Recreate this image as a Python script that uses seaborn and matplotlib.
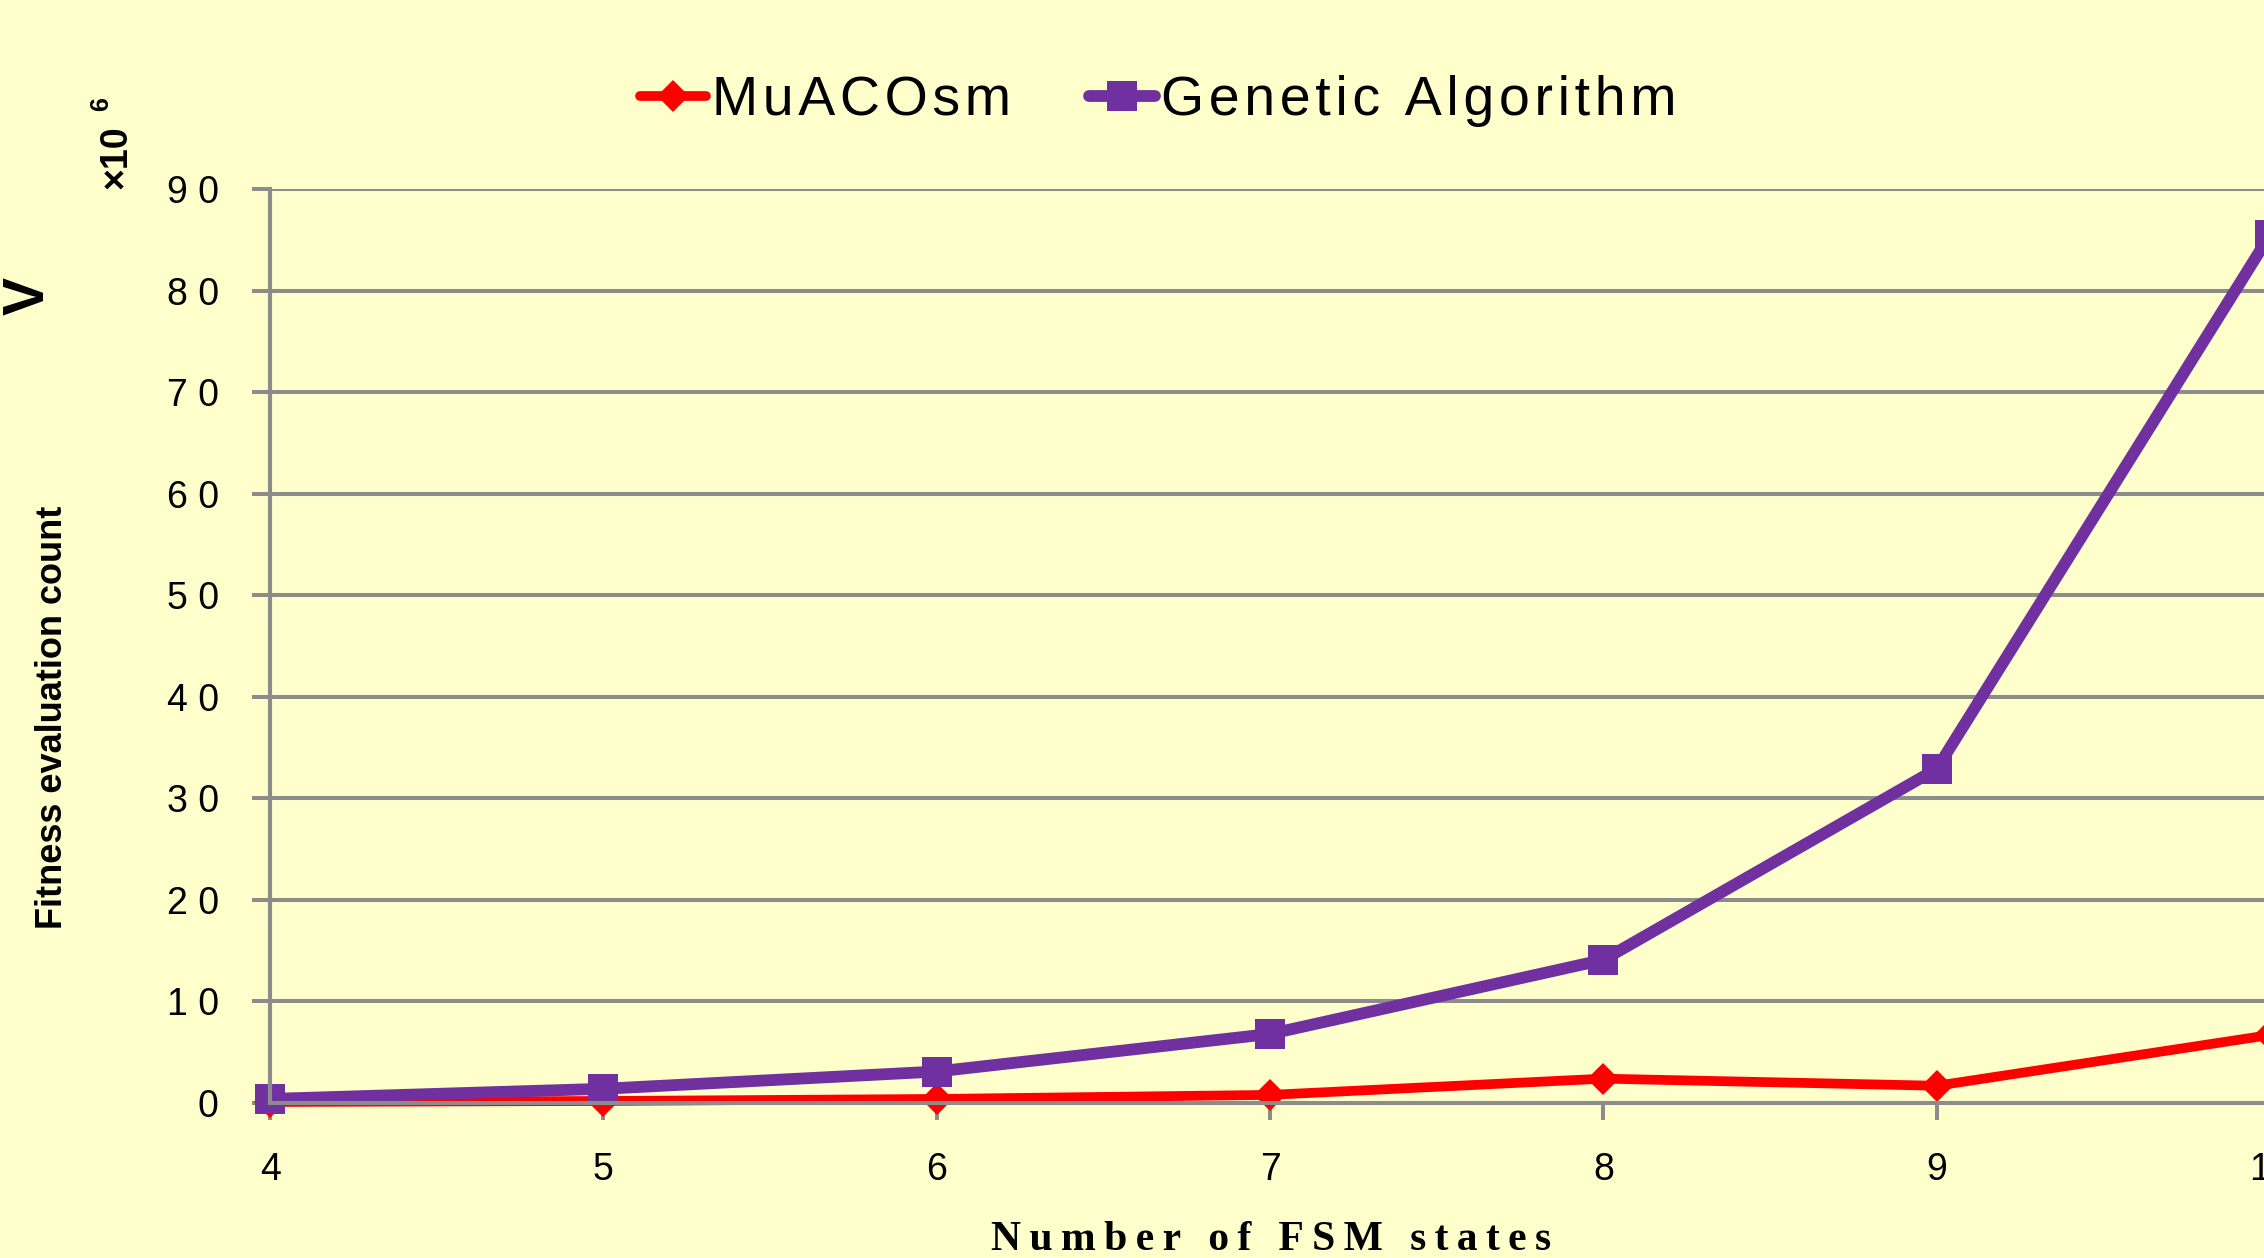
import matplotlib
matplotlib.use("Agg")
import matplotlib.pyplot as plt
import seaborn as sns
import pandas as pd

# data (values in millions)
states = [4, 5, 6, 7, 8, 9, 10]
muacosm = [0.1, 0.2, 0.4, 0.8, 2.4, 1.7, 6.7]
genetic = [0.4, 1.4, 3.1, 6.8, 14.1, 32.9, 85.5]
series_names = ["MuACOsm", "Genetic Algorithm"]
y_ticks = [0, 10, 20, 30, 40, 50, 60, 70, 80, 90]

bg = "#FFFFCC"
grid_col = "#8C8C8C"
red = "#FF0000"
purple = "#7030A0"

sns.set_style("white")
plt.rcParams["font.family"] = ["Liberation Sans", "DejaVu Sans"]
plt.rcParams["text.color"] = "black"
plt.rcParams["xtick.labelcolor"] = "black"
plt.rcParams["ytick.labelcolor"] = "black"

HAIR = "\u200a"
THIN = "\u2009"


def spaced(s, sep=HAIR):
    # letter-spaced text like the original Excel chart
    return (sep + " " + sep).join(sep.join(w) for w in s.split(" "))


df = pd.DataFrame({"states": states, "muaco": muacosm, "ga": genetic})

fig = plt.figure(figsize=(22.64, 12.58), dpi=100, facecolor=bg)
ax = fig.add_axes([0.1193, 0.1232, 1.0027 - 0.1193, 0.8498 - 0.1232])
ax.set_facecolor(bg)

sns.lineplot(data=df, x="states", y="muaco", color=red, marker="D", markersize=16,
             markeredgewidth=0, linewidth=7, ax=ax, label=series_names[0], clip_on=False)
sns.lineplot(data=df, x="states", y="ga", color=purple, marker="s", markersize=21,
             markeredgewidth=0, linewidth=8.5, ax=ax, label=series_names[1], clip_on=False)

ax.set_xlim(4, 10)
ax.set_ylim(0, 90)
ax.set_xticks(states)
ax.set_xticklabels([str(s) for s in states])
ax.set_yticks(y_ticks)
ax.set_yticklabels([" ".join(str(v)) for v in y_ticks])
ax.set_xlabel("")
ax.set_ylabel("")

ax.yaxis.grid(True, color=grid_col, linewidth=2.9)
ax.xaxis.grid(False)
ax.set_axisbelow(True)
for side in ["top", "right"]:
    ax.spines[side].set_visible(False)
ax.spines["left"].set_color(grid_col)
ax.spines["left"].set_linewidth(3)
ax.spines["bottom"].set_color(grid_col)
ax.spines["bottom"].set_linewidth(2.9)

ax.tick_params(axis="y", length=13, width=2.9, color=grid_col, pad=24, labelsize=27, left=True)
ax.tick_params(axis="x", length=12, width=2.9, color=grid_col, pad=23, labelsize=27, bottom=True)

# legend at the top
handles, labels = ax.get_legend_handles_labels()
ax.get_legend().remove()
fig.legend(handles, [spaced(l, HAIR) for l in labels], loc="center",
           bbox_to_anchor=(0.5115, 0.9197), ncol=2, frameon=False,
           prop={"family": ["Liberation Sans", "DejaVu Sans"], "size": 40},
           handlelength=1.2, handletextpad=0.1, columnspacing=1.4)

# axis titles
fig.text(0.5614, 0.006, spaced("Number of FSM states", THIN), ha="center", va="baseline",
         family=["Liberation Serif", "DejaVu Serif"], weight="bold", fontsize=30)
fig.text(0.023, 0.43, "Fitness evaluation count", rotation=90, ha="center", va="center",
         family=["Liberation Sans Narrow", "Liberation Sans", "DejaVu Sans"],
         weight="bold", fontsize=26)
fig.text(0.0515, 0.875, "×10", rotation=90, ha="center", va="center",
         family=["Liberation Sans", "DejaVu Sans"], weight="bold", fontsize=27)
fig.text(0.0445, 0.917, "6", rotation=90, ha="center", va="center",
         family=["Liberation Sans", "DejaVu Sans"], weight="bold", fontsize=18)
# cut-off fragment at the left edge
fig.text(0.0128, 0.7647, "V", rotation=90, ha="center", va="center",
         family=["Liberation Sans", "DejaVu Sans"], weight="bold", fontsize=41)

fig.savefig("out.png", dpi=100, facecolor=bg)
